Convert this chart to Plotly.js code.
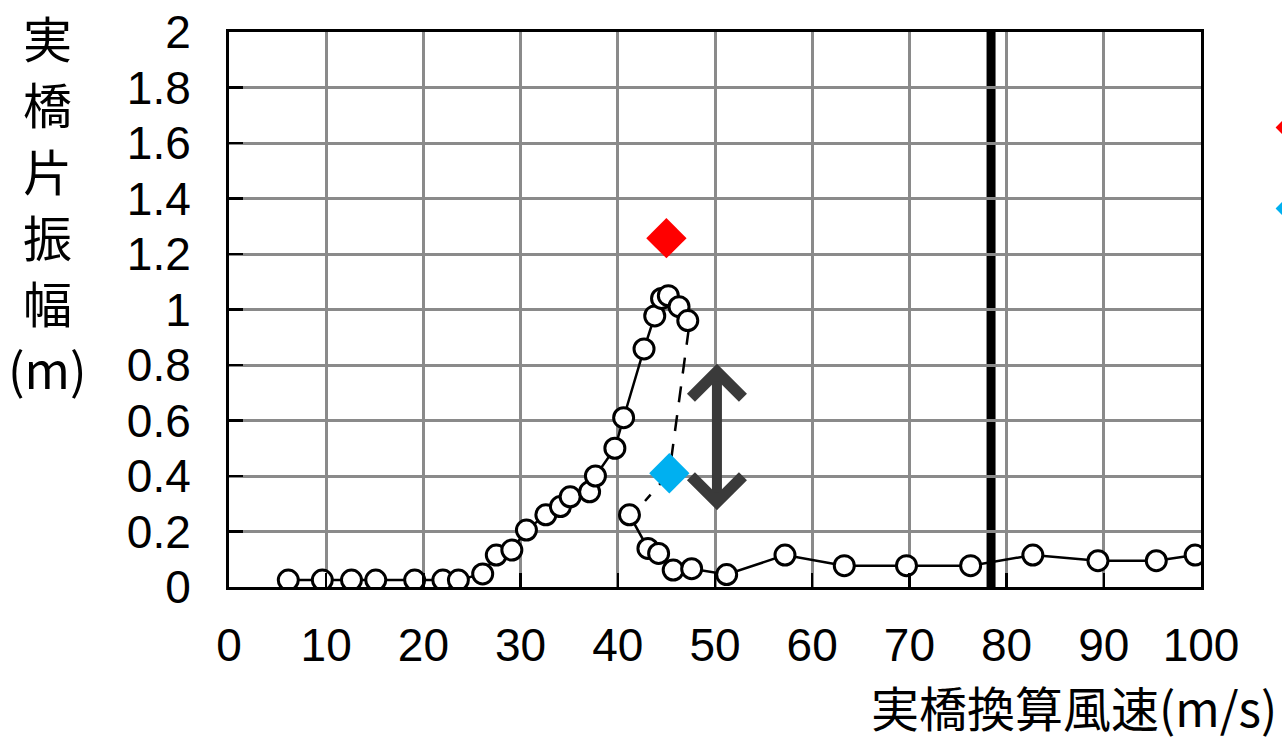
<!DOCTYPE html>
<html>
<head>
<meta charset="utf-8">
<script src="https://cdn.plot.ly/plotly-3.0.1.min.js"></script>
<style>
  html, body { margin: 0; padding: 0; background: #ffffff; }
  #chart { width: 1282px; height: 740px; }
</style>
</head>
<body>
<div id="chart"></div>
<script>
// ---- data ----
// rising branch (wind speed increasing), open circles
const speedRise = [6.1, 9.6, 12.6, 15.1, 19.1, 22.0, 23.6, 26.1, 27.5, 29.1, 30.6, 32.6, 34.1, 35.1, 37.1, 37.7, 39.7, 40.6, 42.7, 43.8, 44.5, 45.2, 46.3, 47.2];
const ampRise   = [0.025, 0.025, 0.025, 0.025, 0.025, 0.025, 0.025, 0.047, 0.115, 0.133, 0.205, 0.26, 0.29, 0.325, 0.343, 0.40, 0.50, 0.61, 0.858, 0.977, 1.04, 1.05, 1.01, 0.96];
// falling / upper-speed branch, open circles
const speedFall = [41.2, 43.1, 44.2, 45.7, 47.6, 51.2, 57.2, 63.3, 69.7, 76.3, 82.7, 89.4, 95.4, 99.4];
const ampFall   = [0.26, 0.139, 0.121, 0.061, 0.066, 0.045, 0.115, 0.077, 0.077, 0.077, 0.115, 0.095, 0.095, 0.115];
// dashed jump line
const speedJump = [47.3, 45.3, 42.8];
const ampJump   = [0.93, 0.41, 0.31];
// red and blue diamonds
const speedRed  = [45.0];
const ampRed    = [1.257];
const speedBlue = [45.3];
const ampBlue   = [0.41];
// double arrow (range) and reference wind speed line
const arrowSpeed = 50.2;
const arrowLow   = 0.277;
const arrowHigh  = 0.81;
const referenceSpeed = 78.4;
// axis ticks
const xTicks = [0, 10, 20, 30, 40, 50, 60, 70, 80, 90, 100];
const yTicks = [0, 0.2, 0.4, 0.6, 0.8, 1, 1.2, 1.4, 1.6, 1.8, 2];
const yTickText = ['0', '0.2', '0.4', '0.6', '0.8', '1', '1.2', '1.4', '1.6', '1.8', '2'];
const xTitle = '実橋換算風速(m/s)';
const yTitleChars = ['実', '橋', '片', '振', '幅', '(m)'];

const FONT = 'Liberation Sans, Arial, "Noto Sans CJK JP", sans-serif';
const CJK = '"Noto Sans CJK JP", "Liberation Sans", sans-serif';

const circleMarker = { symbol: 'circle', size: 20, color: '#ffffff', line: { color: '#000000', width: 3 } };

const traces = [
  {
    x: speedJump, y: ampJump, type: 'scatter', mode: 'lines',
    line: { color: '#000000', width: 2.5, dash: '16px,13px' },
    showlegend: false, hoverinfo: 'skip'
  },
  {
    x: speedRise, y: ampRise, type: 'scatter', mode: 'lines+markers',
    line: { color: '#000000', width: 2.5 }, marker: circleMarker,
    showlegend: false
  },
  {
    x: speedFall, y: ampFall, type: 'scatter', mode: 'lines+markers',
    line: { color: '#000000', width: 2.5 }, marker: circleMarker,
    showlegend: false
  },
  {
    x: speedRed, y: ampRed, type: 'scatter', mode: 'markers', name: ' ',
    legendgroup: 'red',
    marker: { symbol: 'diamond', size: 31, color: '#ff0000', line: { width: 0 } }
  },
  {
    x: speedBlue, y: ampBlue, type: 'scatter', mode: 'markers', name: ' ',
    legendgroup: 'blue',
    marker: { symbol: 'diamond', size: 31, color: '#00b0f0', line: { width: 0 } }
  }
];

const L = 229, R = 1201, T = 32, B = 587;
const W = 1282, H = 740;
const pw = R - L, ph = B - T;
const px2x = p => (p - L) / pw;
const px2y = p => (B - p) / ph;

const annotations = [
  {
    x: arrowSpeed, y: arrowLow, ax: arrowSpeed, ay: arrowHigh,
    xref: 'x', yref: 'y', axref: 'x', ayref: 'y',
    text: '', showarrow: true, arrowside: 'end+start',
    arrowhead: 4, startarrowhead: 4, arrowsize: 1, startarrowsize: 1, arrowwidth: 10,
    arrowcolor: '#3a3a3a'
  },
  {
    text: xTitle, xref: 'paper', yref: 'paper',
    x: px2x(1278), y: px2y(706), xanchor: 'right', yanchor: 'middle',
    showarrow: false, borderpad: 0,
    font: { family: CJK, size: 48, color: '#000000' }
  }
];
// vertical stacked y-axis title, one character per line
const yTitleCenters = [36, 102, 169, 235, 301, 367];
yTitleChars.forEach((ch, i) => {
  annotations.push({
    text: ch, xref: 'paper', yref: 'paper',
    x: px2x(47), y: px2y(yTitleCenters[i]), xanchor: 'center', yanchor: 'middle',
    showarrow: false, borderpad: 0,
    font: { family: CJK, size: 49, color: '#000000' }
  });
});

const layout = {
  width: W, height: H,
  margin: { l: L, r: W - R, t: T, b: H - B, pad: 0, autoexpand: false },
  paper_bgcolor: '#ffffff', plot_bgcolor: '#ffffff',
  font: { family: FONT, size: 46, color: '#000000' },
  xaxis: {
    range: [0, 100], tickmode: 'array', tickvals: xTicks,
    showgrid: true, gridcolor: '#8a8a8a', gridwidth: 3,
    showline: true, linecolor: '#000000', linewidth: 3, mirror: true,
    ticks: 'inside', ticklen: 14, tickwidth: 2.5, tickcolor: '#000000',
    ticklabelstandoff: 16,
    zeroline: false, fixedrange: true,
    tickfont: { family: FONT, size: 46, color: '#000000' }
  },
  yaxis: {
    range: [0, 2], tickmode: 'array', tickvals: yTicks, ticktext: yTickText,
    showgrid: true, gridcolor: '#8a8a8a', gridwidth: 3,
    showline: true, linecolor: '#000000', linewidth: 3, mirror: true,
    ticks: 'inside', ticklen: 14, tickwidth: 2.5, tickcolor: '#000000',
    ticklabelstandoff: 26,
    zeroline: false, fixedrange: true,
    tickfont: { family: FONT, size: 46, color: '#000000' }
  },
  shapes: [
    {
      type: 'line', xref: 'x', yref: 'paper',
      x0: referenceSpeed, x1: referenceSpeed, y0: 0, y1: 1,
      line: { color: '#000000', width: 9 }, layer: 'below'
    }
  ],
  annotations: annotations,
  showlegend: true,
  legend: {
    x: px2x(1266), xanchor: 'left', y: px2y(108), yanchor: 'top',
    bgcolor: 'rgba(0,0,0,0)', borderwidth: 0,
    font: { family: FONT, size: 20, color: '#000000' },
    traceorder: 'grouped', tracegroupgap: 52
  },
  hovermode: false
};

Plotly.newPlot('chart', traces, layout, { displayModeBar: false, staticPlot: true });
</script>
</body>
</html>
